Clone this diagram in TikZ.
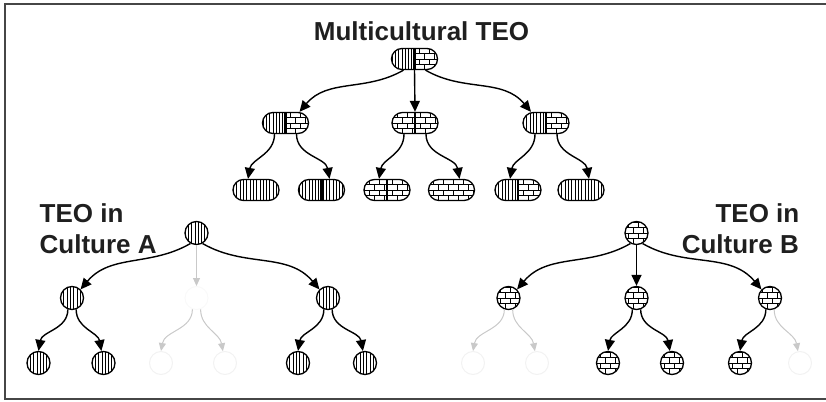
\documentclass[tikz,border=0pt]{standalone}
\usepackage{fontspec}
\setmainfont{Liberation Sans}
\usetikzlibrary{arrows.meta}

% fill patterns, drawn in coordinates relative to a node centre
\newcommand\stripesV[2]{%
  \begin{scope}
    \clip (#1,-16) rectangle (#2,16);
    \foreach \k in {0,...,16}
      \draw[line width=1pt] ({#1+1.6+\k*3.3},-16) -- ++(0,32);
  \end{scope}}
\newcommand\bricks[2]{%
  \begin{scope}
    \clip (#1,-16) rectangle (#2,16);
    \foreach \j in {-3,...,2}{
      \draw[line width=0.75pt] (#1,{\j*5.5}) -- (#2,{\j*5.5});
      \pgfmathsetmacro\brickoff{mod(\j+10,2)*5}
      \foreach \k in {0,...,6}
        \draw[line width=0.75pt] ({#1+\brickoff+\k*10},{\j*5.5}) -- ++(0,5.5);
    }
  \end{scope}}
\newcommand\halfline{\draw[line width=2.2pt] (0,-14) -- (0,14);}
\newcommand\inside[1]{\begin{scope}[shift={(path picture bounding box.center)}]#1\end{scope}}

\tikzset{
  pill/.style={draw, line width=1.3pt, rectangle, rounded corners=10.5pt,
    minimum width=46pt, minimum height=21pt, inner sep=0pt},
  pillV/.style={pill, path picture={\inside{\stripesV{-24}{24}}}},
  pillB/.style={pill, path picture={\inside{\bricks{-23}{24}}}},
  pillVV/.style={pill, path picture={\inside{\stripesV{-24}{0}\stripesV{0}{24}\halfline}}},
  pillBB/.style={pill, path picture={\inside{\bricks{-23}{0}\bricks{0}{24}\halfline}}},
  pillVB/.style={pill, path picture={\inside{\stripesV{-24}{0}\bricks{0}{24}\halfline}}},
  circ/.style={draw, circle, line width=1.3pt, minimum size=23pt, inner sep=0pt},
  circV/.style={circ, path picture={\inside{\stripesV{-13}{13}}}},
  circB/.style={circ, path picture={\inside{\bricks{-13}{13}}}},
  ghost/.style={draw=gray!10, circle, line width=1pt, minimum size=23pt, inner sep=0pt},
  ghostmid/.style={ghost, draw=gray!5},
  arr/.style={-{Triangle[length=11pt,width=10pt]}, line width=1.4pt, black},
  ghostarr/.style={-{Triangle[length=8pt,width=7pt]}, line width=1pt, gray!42},
  label/.style={font=\fontsize{26}{30}\selectfont\bfseries, text=black!88, inner sep=0pt}
}

\begin{document}
\begin{tikzpicture}[x=1pt,y=1pt]
\useasboundingbox (0,0) rectangle (826,-401);
\draw[line width=2pt, draw=gray!55!black] (4.5,-4.5) rectangle (840,-398.8);

% multicultural tree
\node[label, anchor=base] (title) at (421.5,-41) {Multicultural TEO};
\node[pillVB] (R) at (414.5,-59) {};
\node[pillVB] (A1) at (285.5,-123) {};
\node[pillBB] (A2) at (415,-123) {};
\node[pillVB] (A3) at (546,-123) {};
\node[pillV]  (L1) at (256,-190) {};
\node[pillVV] (L2) at (321.5,-190) {};
\node[pillBB] (L3) at (387,-190) {};
\node[pillB]  (L4) at (451.5,-190) {};
\node[pillVB] (L5) at (518,-190) {};
\node[pillV]  (L6) at (581,-190) {};

\draw[arr] ([xshift=-11pt]R.south) to[out=-150,in=50] ([xshift=14pt]A1.north);
\draw[arr] (R.south) -- (A2.north);
\draw[arr] ([xshift=11pt]R.south) to[out=-30,in=130] ([xshift=-15pt]A3.north);
\foreach \p/\a/\b in {A1/L1/L2, A2/L3/L4, A3/L5/L6}{
  \draw[arr] ([xshift=-11pt]\p.south) to[out=-90,in=80] ([xshift=-8pt]\a.north);
  \draw[arr] ([xshift=11pt]\p.south) to[out=-90,in=100] ([xshift=8pt]\b.north);
}

% culture A
\node[label, anchor=base west] (ta1) at (39.5,-222.7) {TEO in};
\node[label, anchor=base west] (ta2) at (39.5,-253.3) {Culture A};
\node[circV] (CA) at (196.5,-233) {};
\node[circV] (CA1) at (72,-298) {};
\node[ghostmid] (CA2) at (196.5,-298) {};
\node[circV] (CA3) at (328,-298) {};
\node[circV] (CA11) at (38.5,-363) {};
\node[circV] (CA12) at (103.5,-363) {};
\node[ghost] (CA21) at (161,-363) {};
\node[ghost] (CA22) at (225,-363) {};
\node[circV] (CA31) at (298,-363) {};
\node[circV] (CA32) at (365,-363) {};

\draw[arr] (CA.-120) to[out=-150,in=50] (CA1.45);
\draw[ghostarr] (CA.south) -- (CA2.north);
\draw[arr] (CA.-60) to[out=-30,in=130] (CA3.135);
\draw[arr] (CA1.-110) to[out=-90,in=80] (CA11.north);
\draw[arr] (CA1.-70) to[out=-90,in=100] (CA12.100);
\draw[ghostarr] (CA2.-110) to[out=-90,in=80] (CA21.north);
\draw[ghostarr] (CA2.-70) to[out=-90,in=100] (CA22.100);
\draw[arr] (CA3.-110) to[out=-90,in=80] (CA31.north);
\draw[arr] (CA3.-70) to[out=-90,in=100] (CA32.100);

% culture B
\node[label, anchor=base east] (tb1) at (799.5,-222.7) {TEO in};
\node[label, anchor=base east] (tb2) at (799,-253.3) {Culture B};
\node[circB] (CB) at (636.5,-233) {};
\node[circB] (CB1) at (508.5,-298) {};
\node[circB] (CB2) at (636.5,-298) {};
\node[circB] (CB3) at (770,-298) {};
\node[ghost] (CB11) at (473,-363) {};
\node[ghost] (CB12) at (537,-363) {};
\node[circB] (CB21) at (608,-363) {};
\node[circB] (CB22) at (672,-363) {};
\node[circB] (CB31) at (740,-363) {};
\node[ghost] (CB32) at (800,-363) {};

\draw[arr] (CB.-120) to[out=-150,in=50] (CB1.45);
\draw[arr] (CB.south) -- (CB2.north);
\draw[arr] (CB.-60) to[out=-30,in=130] (CB3.135);
\draw[ghostarr] (CB1.-110) to[out=-90,in=80] (CB11.north);
\draw[ghostarr] (CB1.-70) to[out=-90,in=100] (CB12.100);
\draw[arr] (CB2.-110) to[out=-90,in=80] (CB21.north);
\draw[arr] (CB2.-70) to[out=-90,in=100] (CB22.100);
\draw[arr] (CB3.-110) to[out=-90,in=80] (CB31.north);
\draw[ghostarr] (CB3.-70) to[out=-90,in=100] (CB32.100);
\end{tikzpicture}
\end{document}
